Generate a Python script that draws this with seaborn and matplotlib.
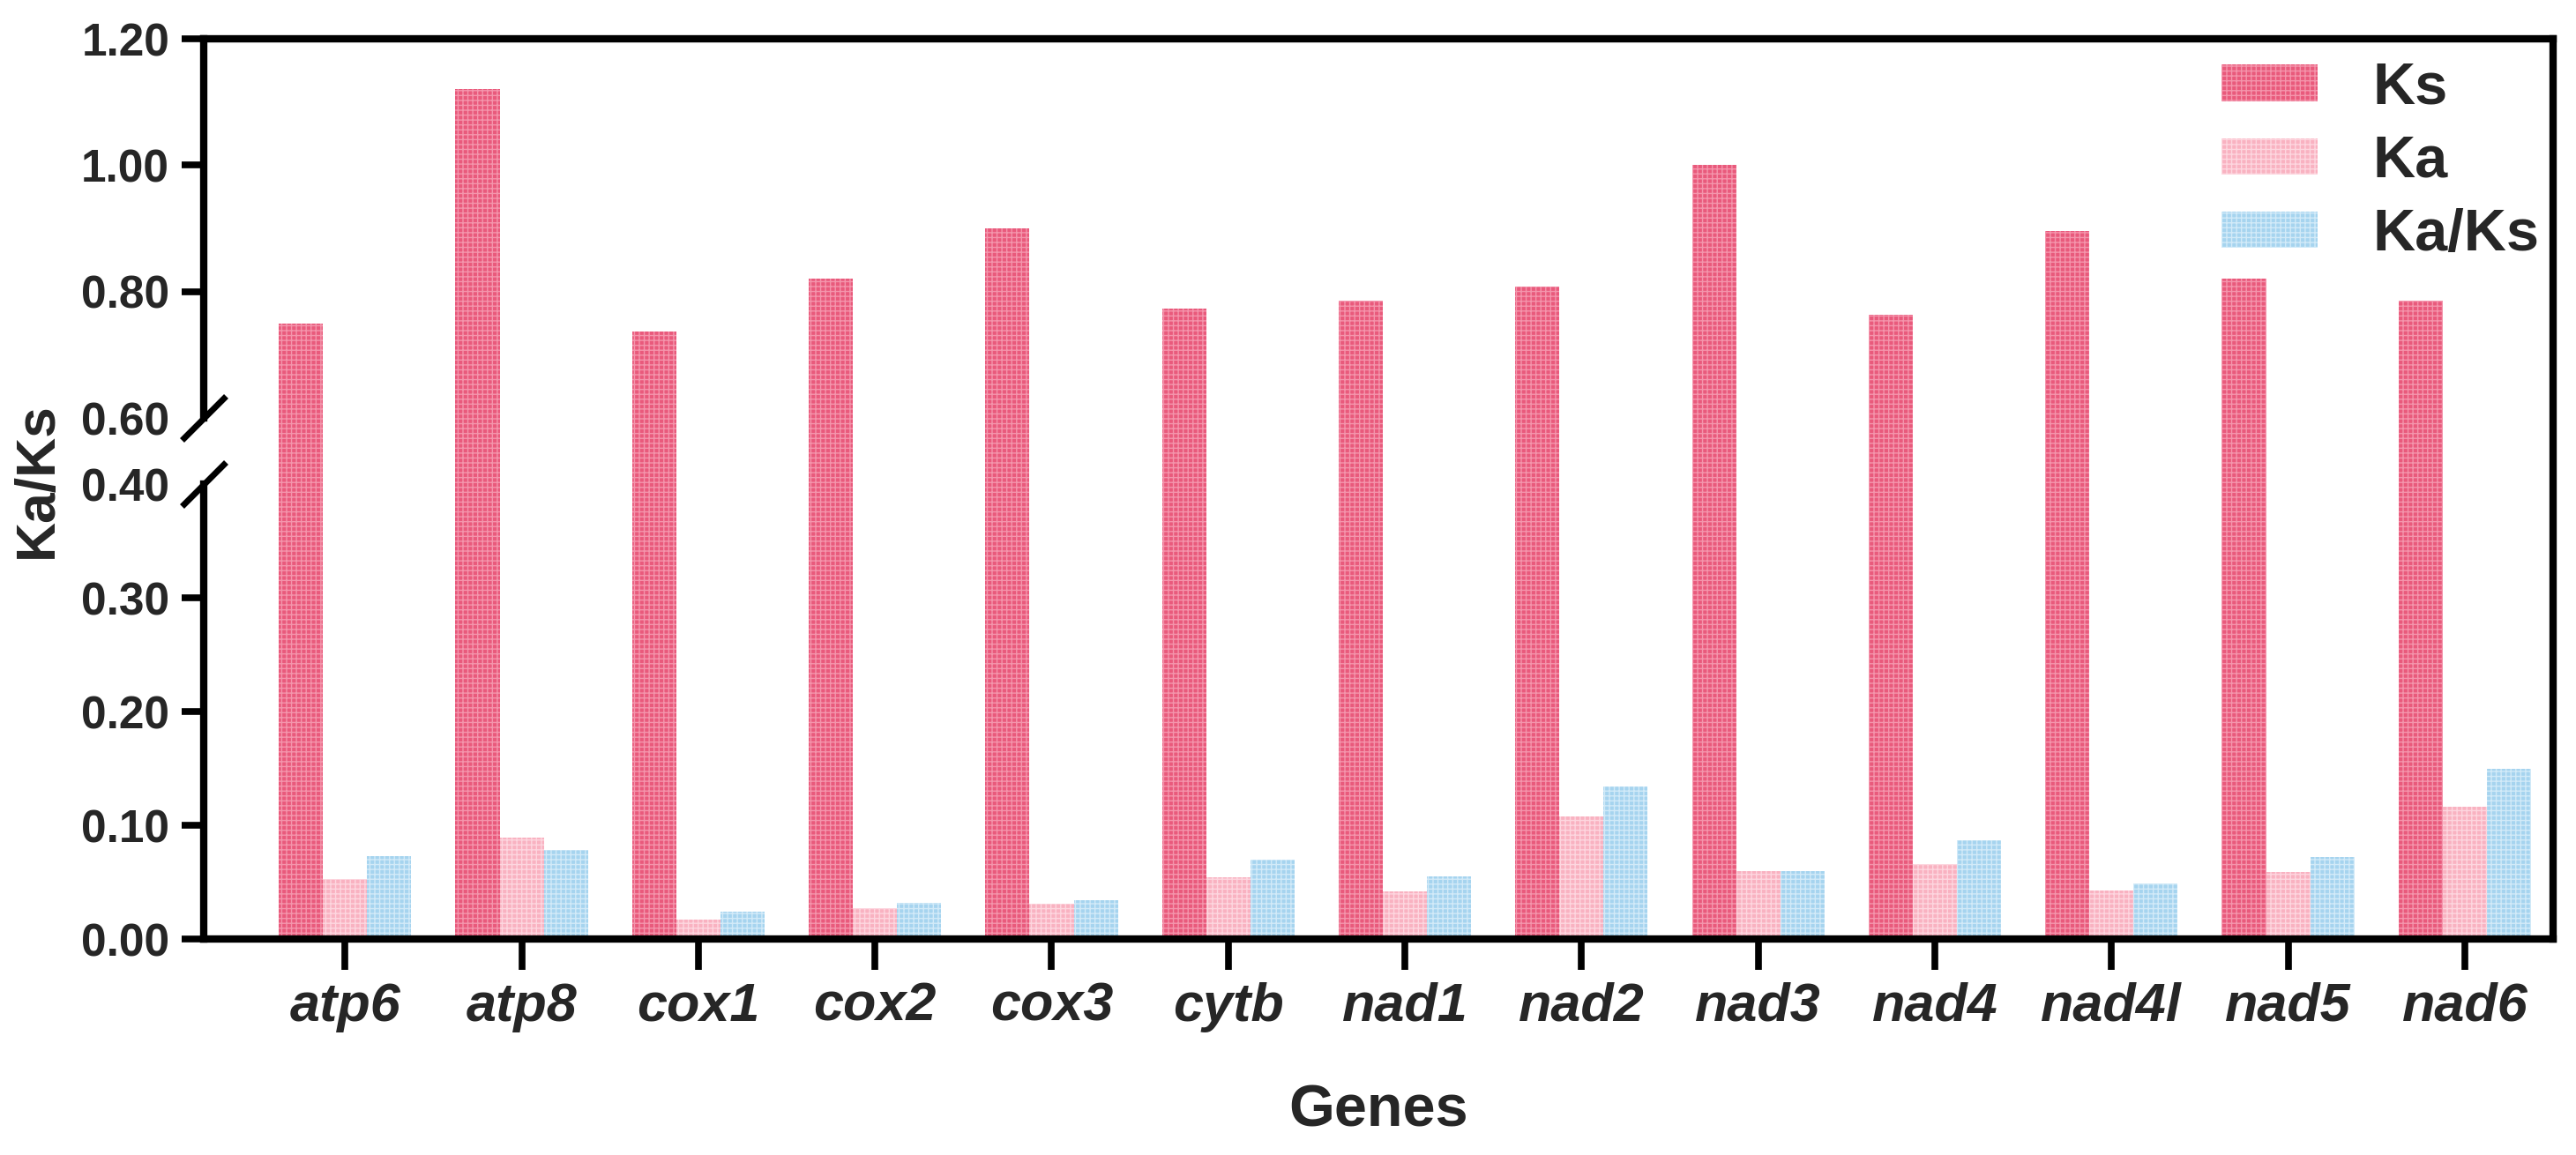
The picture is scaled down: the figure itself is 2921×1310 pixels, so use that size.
import numpy as np
import pandas as pd
import matplotlib
matplotlib.use("Agg")
import matplotlib.pyplot as plt
import seaborn as sns
from matplotlib.patches import Patch

# ---------------- data ----------------
genes = ["atp6", "atp8", "cox1", "cox2", "cox3", "cytb", "nad1",
         "nad2", "nad3", "nad4", "nad4l", "nad5", "nad6"]
ks = [0.750, 1.120, 0.737, 0.820, 0.900, 0.773, 0.786,
      0.808, 1.000, 0.763, 0.896, 0.820, 0.785]
ka = [0.053, 0.089, 0.017, 0.027, 0.031, 0.054, 0.042,
      0.108, 0.060, 0.066, 0.043, 0.059, 0.116]
kaks = [0.073, 0.078, 0.024, 0.032, 0.034, 0.070, 0.055,
        0.134, 0.060, 0.087, 0.049, 0.072, 0.150]
series = ["Ks", "Ka", "Ka/Ks"]
face_colors = ["#E95A7C", "#F9B2C1", "#A6D4EF"]
hatch_colors = ["#F495AC", "#FDD6DF", "#D2EAF8"]
yticks = [0.0, 0.1, 0.2, 0.3, 0.4, 0.6, 0.8, 1.0, 1.2]
ytick_labels = [f"{v:.2f}" for v in yticks]

df = pd.DataFrame({
    "Genes": genes * 3,
    "value": ks + ka + kaks,
    "metric": [series[0]] * len(genes) + [series[1]] * len(genes) + [series[2]] * len(genes),
})

# ---------------- broken (piecewise) y scale ----------------
def fwd(y):
    y = np.asarray(y, dtype=float)
    return np.where(y <= 0.4, y * 1290.0,
                    np.where(y <= 0.6, 516.0 + (y - 0.4) * 375.0,
                             591.0 + (y - 0.6) * 716.7))

def inv(p):
    p = np.asarray(p, dtype=float)
    return np.where(p <= 516.0, p / 1290.0,
                    np.where(p <= 591.0, 0.4 + (p - 516.0) / 375.0,
                             0.6 + (p - 591.0) / 716.7))

# ---------------- style ----------------
sns.set_theme(style="white")
plt.rcParams["font.family"] = ["Liberation Sans", "DejaVu Sans"]
plt.rcParams["font.weight"] = "bold"
plt.rcParams["hatch.linewidth"] = 1.0

fig = plt.figure(figsize=(29.21, 13.10), dpi=100)
ax = fig.add_axes([0.0791, 0.1870, 0.9911 - 0.0791, 0.9664 - 0.1870])

sns.barplot(data=df, x="Genes", y="value", hue="metric", order=genes,
            hue_order=series, palette=face_colors, saturation=1,
            width=0.75, gap=0, linewidth=0, ax=ax, legend=False, errorbar=None)

# hatch texture on bars
for cont, fc, hc in zip(ax.containers, face_colors, hatch_colors):
    for bar in cont:
        bar.set_facecolor(fc)
        bar.set_edgecolor(hc)
        bar.set_linewidth(0)
        bar.set_hatch("+++")

ax.set_yscale("function", functions=(fwd, inv))
ax.set_ylim(0, 1.2)
ax.set_xlim(-0.8, 12.5)

ax.set_yticks(yticks)
ax.set_yticklabels(ytick_labels)
ax.tick_params(axis="y", direction="out", length=18, width=5.5, pad=10,
               labelsize=37, left=True, color="black")
ax.tick_params(axis="x", direction="out", length=25, width=5.5, pad=10,
               labelsize=44, bottom=True, color="black")
for lbl in ax.get_yticklabels():
    lbl.set_fontweight("bold")
for lbl in ax.get_xticklabels():
    lbl.set_fontweight("bold")
    lbl.set_fontstyle("italic")

# no tick marks at the break positions
yt = ax.yaxis.get_major_ticks()
for i in (4, 5):
    yt[i].tick1line.set_visible(False)

# spines: box, left spine broken
for s in ("top", "right", "bottom"):
    ax.spines[s].set_visible(True)
    ax.spines[s].set_linewidth(6)
    ax.spines[s].set_color("black")
ax.spines["left"].set_visible(False)

ytr = ax.get_yaxis_transform()
ax.plot([0, 0], [0.0, 0.4], transform=ytr, color="black", lw=6,
        solid_capstyle="projecting", clip_on=False, zorder=5)
ax.plot([0, 0], [0.6, 1.2], transform=ytr, color="black", lw=6,
        solid_capstyle="projecting", clip_on=False, zorder=5)
ax.plot([0, 0], [0.4, 0.6], transform=ytr, ls="none",
        marker=[(-1, -1), (1, 1)], ms=36, mew=5, color="black",
        clip_on=False, zorder=5)

# axis labels
ax.set_xlabel("Genes", fontsize=48, fontweight="bold")
ax.set_ylabel("Ka/Ks", fontsize=45, fontweight="bold")
ax.xaxis.label.set_va("center")
ax.xaxis.set_label_coords(0.5, -0.191)
ax.yaxis.label.set_va("center")
ax.yaxis.set_label_coords(-0.071, 0.51)

# legend
handles = [Patch(facecolor=fc, edgecolor=hc, hatch="+++", linewidth=0, label=s)
           for fc, hc, s in zip(face_colors, hatch_colors, series)]
ax.legend(handles=handles, loc="upper left", bbox_to_anchor=(0.859, 0.975),
          frameon=False, borderpad=0, borderaxespad=0, handlelength=1.63,
          handleheight=0.57, handletextpad=0.94, labelspacing=0.32,
          prop={"weight": "bold", "size": 48})

fig.savefig("out.png", dpi=100, facecolor="white")
